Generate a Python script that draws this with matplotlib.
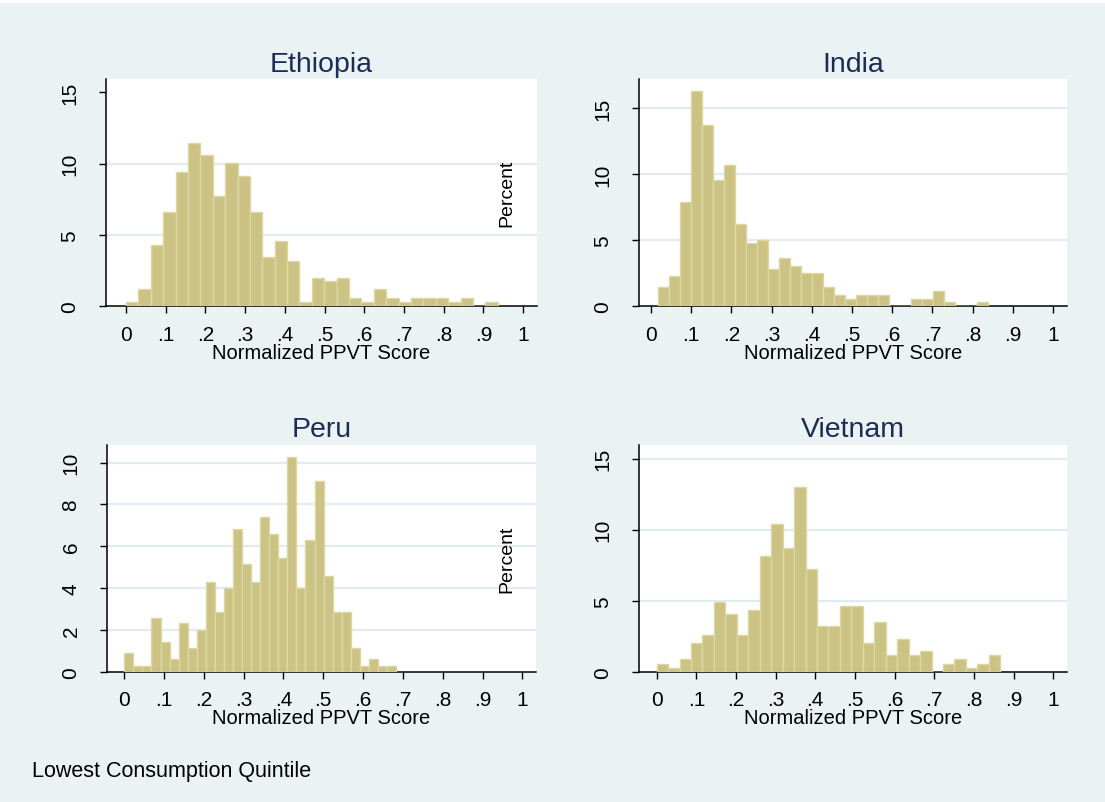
import matplotlib
matplotlib.use("Agg")
import matplotlib.pyplot as plt
import numpy as np

plt.rcParams['font.family'] = ['Liberation Sans', 'DejaVu Sans']

# --- Datos (porcentaje por bin) ---
countries = ["Ethiopia", "India", "Peru", "Vietnam"]

ethiopia_start, ethiopia_width = 0.0, 0.0312
ethiopia_pct = [0.28, 1.19, 4.32, 6.59, 9.44, 11.45, 10.6, 7.76, 10.02, 9.16,
                6.59, 3.43, 4.58, 3.18, 0.28, 2.01, 1.75, 2.01, 0.61, 0.28,
                1.19, 0.61, 0.28, 0.61, 0.61, 0.61, 0.28, 0.61, 0.0, 0.28]

india_start, india_width = 0.0174, 0.02734
india_pct = [1.44, 2.30, 7.88, 16.26, 13.74, 9.52, 10.66, 6.19, 4.82, 5.05,
             2.83, 3.64, 3.08, 2.55, 2.55, 1.44, 0.86, 0.56, 0.86, 0.86,
             0.86, 0.0, 0.0, 0.56, 0.56, 1.19, 0.30, 0.0, 0.0, 0.30]

peru_start, peru_width = 0.0, 0.02276
peru_pct = [0.88, 0.26, 0.26, 2.55, 1.44, 0.59, 2.31, 1.15, 2.01, 4.27,
            2.85, 3.99, 6.83, 5.14, 4.27, 7.40, 6.57, 5.42, 10.27, 3.99,
            6.28, 9.11, 4.58, 2.84, 2.84, 1.15, 0.26, 0.59, 0.26, 0.26]

vietnam_start, vietnam_width = 0.0, 0.02888
vietnam_pct = [0.56, 0.28, 0.89, 2.02, 2.61, 4.93, 4.08, 2.61, 4.37, 8.12,
               10.40, 8.69, 13.03, 7.21, 3.19, 3.19, 4.65, 4.65, 2.02, 3.47,
               1.17, 2.30, 1.17, 1.46, 0.0, 0.56, 0.89, 0.28, 0.56, 1.17]

x_ticks = [0, .1, .2, .3, .4, .5, .6, .7, .8, .9, 1]
x_ticklabels = ["0", ".1", ".2", ".3", ".4", ".5", ".6", ".7", ".8", ".9", "1"]

ethiopia_yticks = [0, 5, 10, 15]
india_yticks = [0, 5, 10, 15]
peru_yticks = [0, 2, 4, 6, 8, 10]
vietnam_yticks = [0, 5, 10, 15]

ethiopia_grid = [5, 10]
india_grid = [5, 10, 15]
peru_grid = [2, 4, 6, 8, 10]
vietnam_grid = [5, 10, 15]

xlabel = "Normalized PPVT Score"
ylabel = "Percent"
note = "Lowest Consumption Quintile"

# --- Estilo ---
bg = "#EAF2F3"
grid_color = "#E1ECF0"
bar_color = "#CBC283"
bar_edge = "#DCD8A4"
title_color = "#1E2C55"

W, H = 1105, 803
fig = plt.figure(figsize=(W / 100, H / 100), dpi=100, facecolor="white")
fig.patches.append(plt.Rectangle((0, 0), 1, 1 - 4 / H, transform=fig.transFigure,
                                 facecolor=bg, edgecolor="none", zorder=-10))


def px_axes(left, right, top, bottom):
    return [left / W, 1 - bottom / H, (right - left) / W, (bottom - top) / H]


panels = [
    (countries[0], ethiopia_start, ethiopia_width, ethiopia_pct, ethiopia_yticks,
     ethiopia_grid, (106, 537, 80, 307.3), (-0.0504, 1.035), 15.93, False),
    (countries[1], india_start, india_width, india_pct, india_yticks,
     india_grid, (639, 1067, 80, 307.3), (-0.0299, 1.035), 17.2, True),
    (countries[2], peru_start, peru_width, peru_pct, peru_yticks,
     peru_grid, (107, 536, 445.7, 672.7), (-0.0434, 1.0344), 10.86, False),
    (countries[3], vietnam_start, vietnam_width, vietnam_pct, vietnam_yticks,
     vietnam_grid, (639, 1067, 445.7, 672.7), (-0.0446, 1.0347), 15.99, True),
]

for name, start, width, pct, yticks, grid, box, xlim, ytop, show_ylabel in panels:
    ax = fig.add_axes(px_axes(*box))
    ax.set_facecolor("white")

    edges = start + width * np.arange(len(pct))
    ax.bar(edges, pct, width=width, align="edge", color=bar_color,
           edgecolor=bar_edge, linewidth=1.0, zorder=3)

    for g in grid:
        ax.axhline(g, color=grid_color, lw=1.6, zorder=1)

    ax.set_xlim(*xlim)
    ax.set_ylim(0, ytop)
    ax.set_xticks(x_ticks)
    ax.set_xticklabels(x_ticklabels)
    ax.set_yticks(yticks)
    ax.set_yticklabels([str(t) for t in yticks], rotation=90, va="center")

    for s in ["top", "right"]:
        ax.spines[s].set_visible(False)
    for s in ["left", "bottom"]:
        ax.spines[s].set_linewidth(1.1)
        ax.spines[s].set_color("black")

    ax.tick_params(axis="x", length=5, width=1.0, labelsize=15, pad=8.5)
    ax.tick_params(axis="y", length=5, width=1.0, labelsize=15, pad=14)

    ax.set_xlabel(xlabel, fontsize=14.5, labelpad=-1)
    ax.set_title(name, fontsize=20.5, color=title_color, pad=6)

    if show_ylabel:
        cy = (box[2] + box[3]) / 2
        fig.text(507 / W, 1 - cy / H, ylabel, rotation=90, fontsize=14,
                 ha="center", va="center")

fig.text(32 / W, 1 - 772 / H, note, fontsize=15.5, ha="left", va="center")

fig.savefig("out.png", dpi=100, facecolor=fig.get_facecolor())
